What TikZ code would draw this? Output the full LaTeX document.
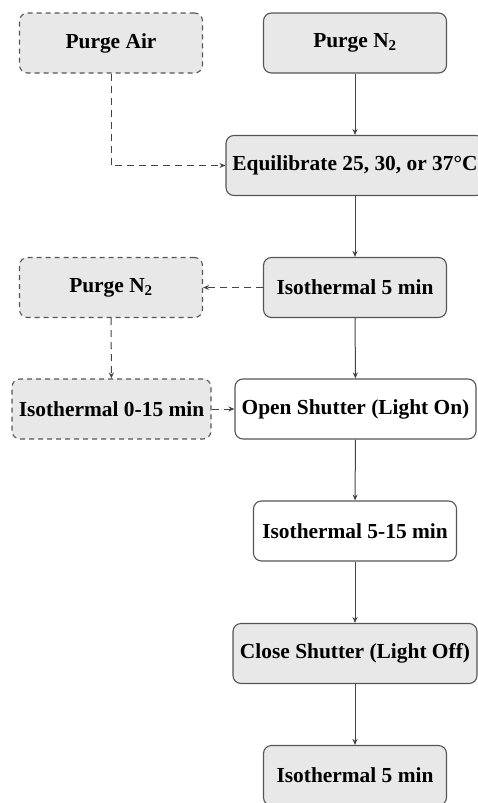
\documentclass[tikz,border=0pt]{standalone}
\usepackage{fontspec}
\setmainfont{Liberation Serif}
\usetikzlibrary{arrows.meta}
\definecolor{boxfill}{HTML}{E8E8E8}
\definecolor{boxline}{HTML}{555555}
\definecolor{arrowcol}{HTML}{444444}
\tikzset{
  stepbox/.style={draw=boxline, line width=1.1pt, rounded corners=8pt, fill=boxfill,
    minimum width=183pt, minimum height=60pt, inner sep=0pt,
    font=\fontsize{21.4}{24}\selectfont\bfseries, text=black},
  whitebox/.style={stepbox, fill=white},
  optbox/.style={stepbox, dashed, dash pattern=on 5pt off 4pt},
  flow/.style={draw=arrowcol, line width=1pt, -{Stealth[length=6pt,width=5pt]}},
  optflow/.style={flow, dash pattern=on 7pt off 5pt},
}
\begin{document}
\begin{tikzpicture}[x=1pt,y=-1pt]
\path[use as bounding box, clip] (0,0) rectangle (478,803);
\node[optbox] (air) at (111,43) {Purge Air};
\node[stepbox] (n2) at (355,43) {Purge N\textsubscript{2}};
\node[stepbox, minimum width=258pt] (eq) at (355,165.5) {Equilibrate 25, 30, or 37\textdegree C};
\node[stepbox] (iso1) at (355,287.5) {Isothermal 5 min};
\node[optbox] (n2b) at (111,287.5) {Purge N\textsubscript{2}};
\node[optbox, minimum width=199pt] (iso0) at (111.5,409) {Isothermal 0-15 min};
\node[whitebox, minimum width=241pt] (open) at (355.5,409) {Open Shutter (Light On)};
\node[whitebox, minimum width=203pt] (iso515) at (355,531) {Isothermal 5-15 min};
\node[stepbox, minimum width=244pt] (close) at (355,653.5) {Close Shutter (Light Off)};
\node[stepbox] (iso2) at (355,775.5) {Isothermal 5 min};
\draw[flow] (n2) -- (eq);
\draw[flow] (eq) -- (iso1);
\draw[flow] (iso1) -- (open);
\draw[flow] (open) -- (iso515);
\draw[flow] (iso515) -- (close);
\draw[flow] (close) -- (iso2);
\draw[optflow] (air) |- (eq);
\draw[optflow] (iso1) -- (n2b);
\draw[optflow] (n2b) -- (iso0);
\draw[optflow] (iso0) -- (open);
\end{tikzpicture}
\end{document}
